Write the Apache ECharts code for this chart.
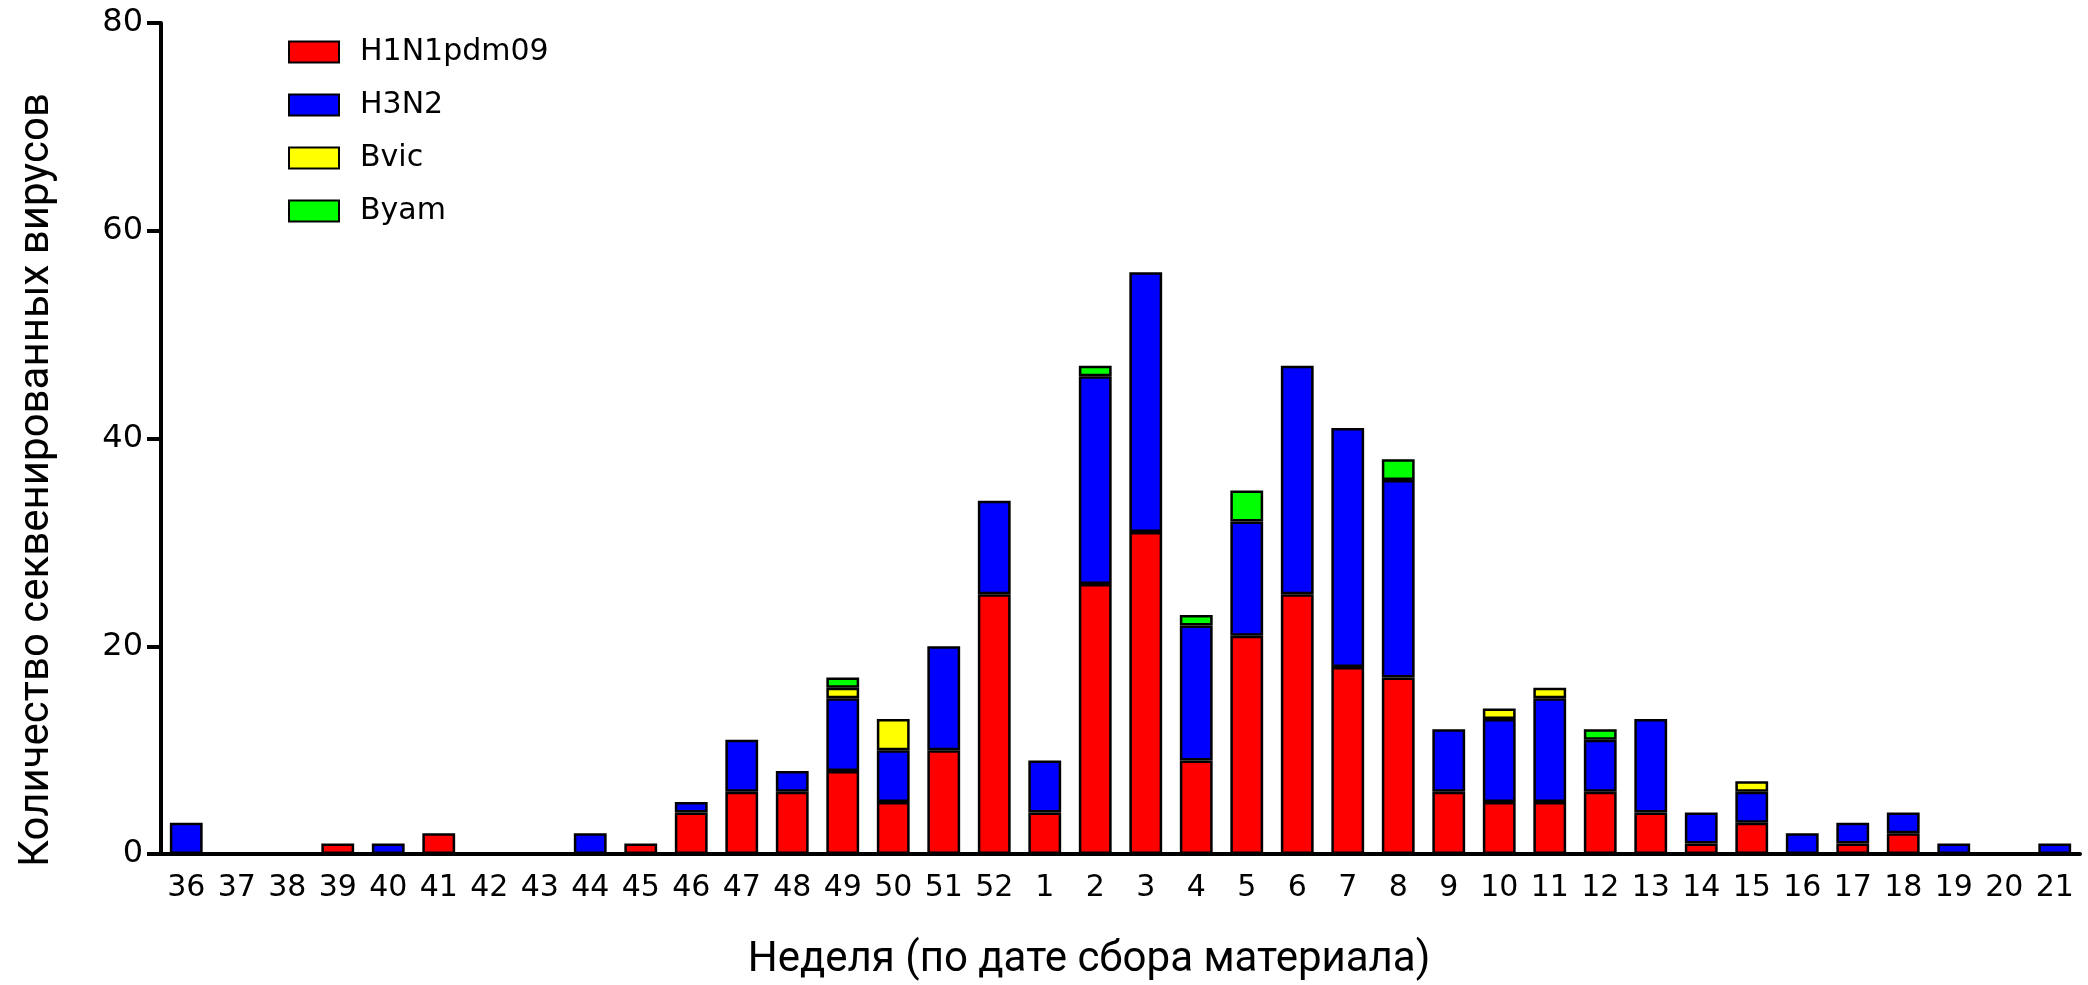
<!DOCTYPE html>
<html>
<head>
<meta charset="utf-8">
<script src="https://cdn.jsdelivr.net/npm/echarts@6/dist/echarts.min.js"></script>
<style>
html,body{margin:0;padding:0;background:#fff;}
#chart{width:2088px;height:985px;}
</style>
</head>
<body>
<div id="chart"></div>
<script>
const weeks = ['36','37','38','39','40','41','42','43','44','45','46','47','48','49','50','51','52','1','2','3','4','5','6','7','8','9','10','11','12','13','14','15','16','17','18','19','20','21'];
const h1n1 = [0,0,0,1,0,2,0,0,0,1,4,6,6,8,5,10,25,4,26,31,9,21,25,18,17,6,5,5,6,4,1,3,0,1,2,0,0,0];
const h3n2 = [3,0,0,0,1,0,0,0,2,0,1,5,2,7,5,10,9,5,20,25,13,11,22,23,19,6,8,10,5,9,3,3,2,2,2,1,0,1];
const bvic = [0,0,0,0,0,0,0,0,0,0,0,0,0,1,3,0,0,0,0,0,0,0,0,0,0,0,1,1,0,0,0,1,0,0,0,0,0,0];
const byam = [0,0,0,0,0,0,0,0,0,0,0,0,0,1,0,0,0,0,1,0,1,3,0,0,2,0,0,0,1,0,0,0,0,0,0,0,0,0];
const seriesNames = ['H1N1pdm09','H3N2','Bvic','Byam'];
const seriesColors = ['#ff0000','#0000ff','#ffff00','#00ff00'];
const yTitle = 'Количество секвенированных вирусов';
const xTitle = 'Неделя (по дате сбора материала)';

const values = [h1n1, h3n2, bvic, byam];
const chart = echarts.init(document.getElementById('chart'), null, {renderer:'canvas'});
const option = {
  backgroundColor:'#ffffff',
  animation:false,
  grid:{left:161, right:8, top:23, bottom:131},
  legend:{
    orient:'vertical', left:283, top:32,
    icon:'rect', itemWidth:50, itemHeight:21, itemGap:23,
    data:seriesNames,
    textStyle:{fontFamily:'DejaVu Sans', fontSize:30, color:'#000', lineHeight:30, padding:[0,0,0,16]}
  },
  xAxis:{
    type:'category', data:weeks,
    axisLine:{lineStyle:{color:'#000', width:4}},
    axisTick:{alignWithLabel:true, length:14, lineStyle:{color:'#000', width:4}},
    axisLabel:{interval:0, fontFamily:'DejaVu Sans', fontSize:30, color:'#000', margin:19}
  },
  yAxis:{
    type:'value', min:0, max:80, interval:20,
    axisLine:{show:true, lineStyle:{color:'#000', width:4}},
    axisTick:{show:true, length:14, lineStyle:{color:'#000', width:4}},
    splitLine:{show:false},
    axisLabel:{fontFamily:'DejaVu Sans', fontSize:32, color:'#000', margin:18}
  },
  series: seriesNames.map((n,i)=>({
    name:n, type:'bar', stack:'total', barWidth:'65%',
    itemStyle:{color:seriesColors[i], borderColor:'#000', borderWidth:2.5},
    data: values[i].map(v => v === 0 ? null : v)
  })),
  graphic:[
    {type:'text', x:37, y:480, rotation:Math.PI/2,
     style:{text:yTitle, font:'42px Roboto', fill:'#000', align:'center', verticalAlign:'middle', textAlign:'center', textVerticalAlign:'middle'}},
    {type:'text', x:1089, y:960,
     style:{text:xTitle, font:'42px Roboto', fill:'#000', align:'center', verticalAlign:'middle', textAlign:'center', textVerticalAlign:'middle'}}
  ]
};
chart.setOption(option);
</script>
</body>
</html>
